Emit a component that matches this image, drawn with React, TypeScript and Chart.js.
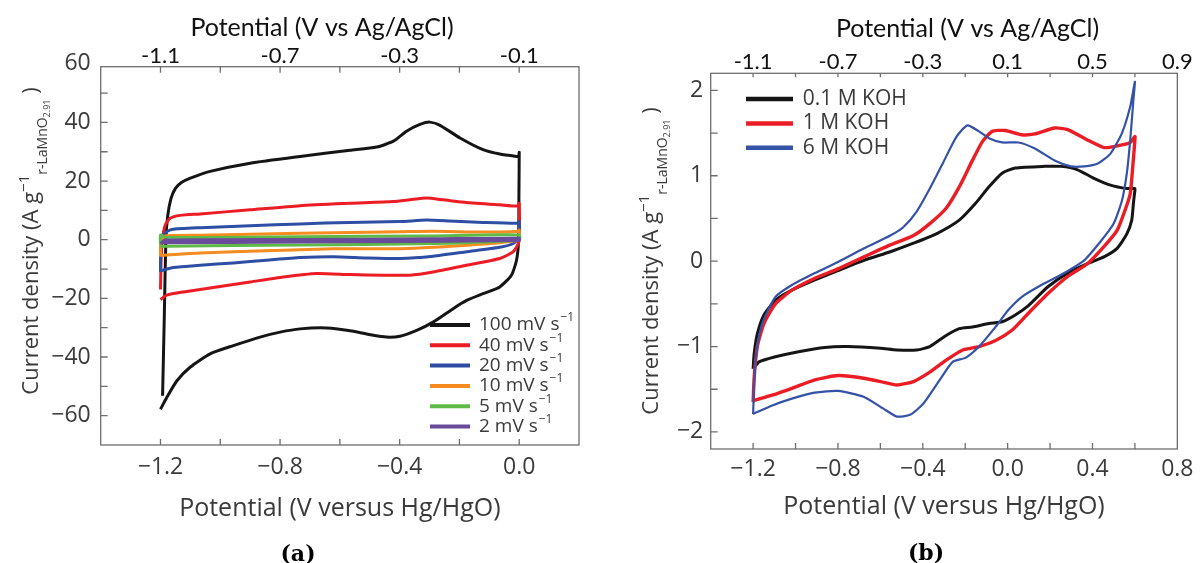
import React, { useEffect, useRef } from 'react';
import { Chart, registerables } from 'chart.js';

Chart.register(...registerables);

// ---------------- Panel (a): scan-rate series ----------------
const aSeriesLabels = ['100 mV s', '40 mV s', '20 mV s', '10 mV s', '5 mV s', '2 mV s'];
const aColors = ['#151515', '#ec1c24', '#2e4ea4', '#f68b1f', '#5eba47', '#6a4b9b'];

const a100V = [-1.193, -1.187, -1.182, -1.176, -1.165, -1.15, -1.13, -1.10, -1.034, -0.900, -0.733, -0.566, -0.477, -0.421, -0.377, -0.332, -0.299, -0.265, -0.198, -0.121, -0.065, -0.009, -0.002, 0.0, -0.001, -0.002, -0.009, -0.026, -0.065, -0.121, -0.176, -0.221, -0.288, -0.343, -0.399, -0.444, -0.488, -0.555, -0.644, -0.733, -0.800, -0.867, -0.956, -1.034, -1.101, -1.145, -1.179, -1.2];
const a100I = [-53.2, -25.0, 0.0, 8.0, 14.0, 17.5, 19.5, 21.0, 23.3, 26.1, 28.4, 30.5, 31.6, 33.6, 37.0, 39.3, 40.1, 39.0, 34.7, 30.7, 29.2, 28.4, 28.4, 29.8, 15.0, 0.0, -7.0, -12.1, -16.1, -18.4, -20.7, -23.5, -28.1, -30.9, -32.9, -33.2, -32.6, -31.2, -30.1, -30.4, -31.5, -33.2, -36.1, -38.9, -43.5, -48.1, -53.8, -57.8];

const a40V = [-1.2, -1.198, -1.194, -1.184, -1.168, -1.134, -1.067, -0.900, -0.733, -0.566, -0.421, -0.366, -0.310, -0.254, -0.176, -0.065, -0.004, 0.0, -0.001, -0.020, -0.065, -0.176, -0.288, -0.366, -0.455, -0.566, -0.678, -0.789, -0.900, -1.012, -1.123, -1.179, -1.2];
const a40I = [-17.0, -7.0, -0.1, 5.0, 7.3, 8.3, 8.8, 10.2, 11.6, 12.4, 13.0, 13.6, 14.2, 13.6, 12.7, 11.9, 11.5, 12.4, -0.7, -4.1, -6.4, -8.7, -11.0, -12.1, -12.1, -11.9, -11.5, -12.7, -14.4, -16.1, -17.8, -18.9, -20.4];

const a20V = [-1.2, -1.198, -1.184, -1.162, -1.067, -0.900, -0.733, -0.566, -0.399, -0.310, -0.232, -0.121, -0.004, 0.0, -0.001, -0.020, -0.065, -0.176, -0.288, -0.399, -0.511, -0.622, -0.733, -0.845, -0.956, -1.067, -1.157, -1.2];
const a20I = [-11.0, -0.1, 2.4, 3.5, 4.1, 4.8, 5.4, 5.9, 6.2, 6.7, 6.4, 5.9, 5.6, 6.2, 1.0, -1.3, -2.6, -4.1, -5.6, -6.4, -6.2, -5.8, -6.1, -7.0, -7.9, -8.7, -9.5, -10.6];

const a10V = [-1.2, -1.198, -1.184, -1.067, -0.733, -0.399, -0.288, -0.121, -0.004, 0.0, -0.001, -0.065, -0.288, -0.399, -0.622, -0.845, -1.067, -1.2];
const a10I = [-5.8, 0.0, 1.3, 1.5, 2.2, 2.7, 2.9, 2.6, 2.9, 3.3, 0.0, -1.0, -2.6, -3.1, -3.1, -3.8, -4.5, -5.3];

const a5V = [-1.2, -1.2, -1.184, -0.733, -0.288, 0.0, 0.0, -0.288, -0.733, -1.18, -1.2];
const a5I = [-1.8, 1.6, 0.8, 1.0, 1.3, 1.6, -0.1, -1.3, -1.8, -2.2, -2.4];

const a2V = [-1.2, -1.184, -0.733, -0.288, 0.0, 0.0, -0.733, -1.2];
const a2I = [-1.3, -0.1, 0.1, 0.3, 0.5, -0.3, -0.8, -1.0];

const aXTicks = [-1.2, -1.0, -0.8, -0.6, -0.4, -0.2, 0.0];
const aXLabelVals = [-1.2, -0.8, -0.4, 0.0];
const aXLabels = ['\u22121.2', '\u22120.8', '\u22120.4', '0.0'];
const aTopLabels = ['-1.1', '-0.7', '-0.3', '-0.1'];
const aYTicks = [-60, -50, -40, -30, -20, -10, 0, 10, 20, 30, 40, 50];
const aYLabelVals = [60, 40, 20, 0, -20, -40, -60];
const aYLabels = ['60', '40', '20', '0', '\u221220', '\u221240', '\u221260'];

// ---------------- Panel (b): electrolyte series ----------------
const bSeriesLabels = ['0.1 M KOH', '1 M KOH', '6 M KOH'];
const bColors = ['#151515', '#ec1c24', '#3553a6'];

const bBlackV = [-1.2, -1.195, -1.180, -1.149, -1.095, -1.017, -0.909, -0.800, -0.677, -0.553, -0.444, -0.336, -0.228, -0.150, -0.088, -0.026, 0.036, 0.175, 0.252, 0.330, 0.407, 0.485, 0.563, 0.600, 0.600, 0.593, 0.585, 0.562, 0.516, 0.454, 0.376, 0.283, 0.190, 0.098, 0.036, -0.026, -0.088, -0.166, -0.228, -0.290, -0.367, -0.429, -0.522, -0.599, -0.754, -0.862, -0.986, -1.095, -1.172, -1.2];
const bBlackI = [-1.26, -1.08, -0.85, -0.63, -0.46, -0.34, -0.22, -0.11, 0.01, 0.11, 0.21, 0.32, 0.48, 0.68, 0.87, 1.03, 1.09, 1.11, 1.11, 1.07, 0.97, 0.89, 0.85, 0.85, 0.83, 0.68, 0.48, 0.32, 0.15, 0.05, -0.03, -0.14, -0.30, -0.52, -0.63, -0.71, -0.73, -0.77, -0.79, -0.87, -1.00, -1.04, -1.04, -1.02, -1.00, -1.01, -1.06, -1.12, -1.18, -1.26];

const bRedV = [-1.2, -1.195, -1.180, -1.149, -1.095, -1.017, -0.909, -0.800, -0.677, -0.553, -0.444, -0.367, -0.290, -0.228, -0.166, -0.119, -0.073, -0.011, 0.066, 0.128, 0.221, 0.283, 0.376, 0.454, 0.516, 0.578, 0.600, 0.600, 0.590, 0.578, 0.554, 0.516, 0.454, 0.376, 0.283, 0.190, 0.098, 0.020, -0.057, -0.135, -0.212, -0.290, -0.367, -0.444, -0.522, -0.599, -0.708, -0.800, -0.909, -1.017, -1.110, -1.195, -1.2];
const bRedI = [-1.65, -1.36, -1.00, -0.73, -0.50, -0.34, -0.20, -0.09, 0.05, 0.19, 0.30, 0.44, 0.62, 0.87, 1.18, 1.40, 1.52, 1.53, 1.48, 1.49, 1.56, 1.54, 1.42, 1.33, 1.35, 1.39, 1.46, 1.42, 1.11, 0.79, 0.60, 0.36, 0.17, -0.03, -0.18, -0.38, -0.61, -0.81, -0.93, -1.00, -1.04, -1.16, -1.30, -1.41, -1.45, -1.41, -1.36, -1.34, -1.39, -1.49, -1.57, -1.63, -1.65];

const bBlueV = [-1.2, -1.195, -1.185, -1.157, -1.095, -1.017, -0.909, -0.800, -0.677, -0.553, -0.491, -0.429, -0.367, -0.305, -0.243, -0.190, -0.135, -0.088, -0.026, 0.051, 0.128, 0.221, 0.299, 0.361, 0.423, 0.485, 0.539, 0.578, 0.600, 0.593, 0.578, 0.562, 0.539, 0.500, 0.438, 0.361, 0.252, 0.159, 0.066, 0.004, -0.057, -0.135, -0.197, -0.259, -0.320, -0.398, -0.460, -0.522, -0.584, -0.677, -0.800, -0.909, -1.017, -1.110, -1.2];
const bBlueI = [-1.79, -1.43, -1.08, -0.73, -0.42, -0.28, -0.14, -0.01, 0.15, 0.30, 0.40, 0.58, 0.85, 1.15, 1.45, 1.59, 1.52, 1.44, 1.39, 1.39, 1.32, 1.18, 1.11, 1.11, 1.14, 1.26, 1.50, 1.81, 2.10, 1.89, 1.42, 1.03, 0.71, 0.44, 0.23, 0.01, -0.16, -0.28, -0.42, -0.57, -0.77, -1.00, -1.13, -1.18, -1.39, -1.67, -1.80, -1.82, -1.73, -1.59, -1.52, -1.54, -1.61, -1.69, -1.79];

const bXTicks = [-1.2, -1.0, -0.8, -0.6, -0.4, -0.2, 0.0, 0.2, 0.4, 0.6];
const bXLabelVals = [-1.2, -0.8, -0.4, 0.0, 0.4, 0.8];
const bXLabels = ['\u22121.2', '\u22120.8', '\u22120.4', '0.0', '0.4', '0.8'];
const bTopLabels = ['-1.1', '-0.7', '-0.3', '0.1', '0.5', '0.9'];
const bYTicks = [-2, -1.5, -1, -0.5, 0, 0.5, 1, 1.5, 2];
const bYLabelVals = [2, 1, 0, -1, -2];
const bYLabels = ['2', '1', '0', '\u22121', '\u22122'];

// ---------------- helpers ----------------
const W = 600;
const H = 563;
const SANS = '"Open Sans", "Noto Sans", sans-serif';
const TOPFONT = 'Lato, "Open Sans", sans-serif';
const TEXT = '#3a3a3a';
const FRAME = '#6e6e6e';

const pts = (xs: number[], ys: number[]) => xs.map((x, i) => ({ x, y: ys[i] }));

function axis(opts: any) {
  const { position, min, max, vals, labels, font, color, padding, size } = opts;
  const horizontal = position === 'top' || position === 'bottom';
  return {
    type: 'linear',
    position,
    min,
    max,
    afterBuildTicks: (s: any) => {
      s.ticks = vals.map((v: number) => ({ value: v }));
    },
    afterFit: (s: any) => {
      if (horizontal) s.height = size;
      else s.width = size;
    },
    ticks: {
      autoSkip: false,
      maxRotation: 0,
      minRotation: 0,
      padding,
      color,
      font,
      callback: (_v: any, i: number) => labels[i],
    },
    grid: { display: false, drawTicks: false },
    border: { display: false },
    title: opts.title || { display: false },
  };
}

function drawYTitle(ctx: CanvasRenderingContext2D, baseX: number, centerY: number) {
  const parts = [
    { t: 'Current density (A g', size: 22, dy: 0 },
    { t: '\u22121', size: 15, dy: -9 },
    { t: 'r-LaMnO', size: 14, dy: 9 },
    { t: '2.91', size: 9, dy: 12 },
    { t: ' )', size: 22, dy: 0 },
  ];
  ctx.save();
  ctx.fillStyle = TEXT;
  ctx.textBaseline = 'alphabetic';
  ctx.textAlign = 'left';
  const widths = parts.map((p) => {
    ctx.font = `${p.size}px ${SANS}`;
    return ctx.measureText(p.t).width;
  });
  const total = widths.reduce((a, b) => a + b, 0);
  ctx.translate(baseX, centerY);
  ctx.rotate(-Math.PI / 2);
  let x = -total / 2;
  parts.forEach((p, i) => {
    ctx.font = `${p.size}px ${SANS}`;
    ctx.fillText(p.t, x, p.dy);
    x += widths[i];
  });
  ctx.restore();
}

function framePlugin(xTicks: number[], yTicks: number[], lens: { b: number; t: number; l: number }) {
  return {
    id: 'frameTicks',
    beforeDatasetsDraw(chart: any) {
      const { ctx, chartArea: ca, scales } = chart;
      ctx.save();
      ctx.strokeStyle = FRAME;
      ctx.lineWidth = 1.3;
      ctx.strokeRect(ca.left, ca.top, ca.right - ca.left, ca.bottom - ca.top);
      ctx.beginPath();
      xTicks.forEach((v) => {
        const px = scales.x.getPixelForValue(v);
        ctx.moveTo(px, ca.bottom);
        ctx.lineTo(px, ca.bottom - lens.b);
        ctx.moveTo(px, ca.top);
        ctx.lineTo(px, ca.top + lens.t);
      });
      yTicks.forEach((v) => {
        const py = scales.y.getPixelForValue(v);
        ctx.moveTo(ca.left, py);
        ctx.lineTo(ca.left + lens.l, py);
      });
      ctx.stroke();
      ctx.restore();
    },
  };
}

function ChartPanel({ build }: { build: (c: HTMLCanvasElement) => Chart }) {
  const ref = useRef<HTMLCanvasElement | null>(null);
  useEffect(() => {
    if (!ref.current) return;
    const chart = build(ref.current);
    return () => chart.destroy();
  }, [build]);
  return <canvas ref={ref} width={W} height={H} style={{ display: 'block', width: W, height: H }} />;
}

function buildA(canvas: HTMLCanvasElement) {
  const seriesV = [a100V, a40V, a20V, a10V, a5V, a2V];
  const seriesI = [a100I, a40I, a20I, a10I, a5I, a2I];
  const datasets = seriesV.map((v, k) => ({
    label: aSeriesLabels[k] + '\u207B\u00B9',
    data: pts(v, seriesI[k]),
    borderColor: aColors[k],
    backgroundColor: aColors[k],
    borderWidth: 3,
    showLine: true,
    pointRadius: 0,
    tension: 0.2,
    fill: false,
    order: 5 - k,
  }));
  const decor = {
    id: 'decorA',
    afterDraw(chart: any) {
      const ctx = chart.ctx as CanvasRenderingContext2D;
      ctx.save();
      // top title
      ctx.fillStyle = '#111';
      ctx.font = `25px ${TOPFONT}`;
      ctx.textAlign = 'center';
      ctx.textBaseline = 'middle';
      ctx.fillText('Potential (V vs Ag/AgCl)', 322, 28);
      // y title
      drawYTitle(ctx, 38, 241);
      // legend
      const y0 = 325;
      const dy = 20.3;
      aSeriesLabels.forEach((lab, k) => {
        const y = y0 + k * dy;
        ctx.strokeStyle = aColors[k];
        ctx.lineWidth = 4;
        ctx.beginPath();
        ctx.moveTo(430, y);
        ctx.lineTo(470, y);
        ctx.stroke();
        ctx.fillStyle = TEXT;
        ctx.textAlign = 'left';
        ctx.textBaseline = 'middle';
        ctx.font = `19px ${SANS}`;
        ctx.fillText(lab, 479, y);
        const w = ctx.measureText(lab).width;
        ctx.font = `12px ${SANS}`;
        ctx.fillText('\u22121', 479 + w + 1, y - 7);
      });
      // caption
      ctx.fillStyle = '#000';
      ctx.textAlign = 'center';
      ctx.textBaseline = 'middle';
      ctx.font = `bold 22px "DejaVu Serif", serif`;
      ctx.fillText('(a)', 298, 555);
      ctx.restore();
    },
  };
  return new Chart(canvas, {
    type: 'scatter',
    data: { datasets } as any,
    options: {
      responsive: false,
      animation: false,
      devicePixelRatio: 1,
      layout: { padding: { left: 0, right: 21, top: 0, bottom: 0 } },
      plugins: { legend: { display: false }, tooltip: { enabled: false } },
      scales: {
        x: axis({
          position: 'bottom', min: -1.4, max: 0.2, vals: aXLabelVals, labels: aXLabels,
          font: { family: SANS, size: 23 }, color: TEXT, padding: 9, size: 118,
          title: {
            display: true, text: 'Potential (V versus Hg/HgO)', color: TEXT,
            font: { family: SANS, size: 25 }, padding: { top: 0, bottom: 39 },
          },
        }),
        x2: axis({
          position: 'top', min: -1.4, max: 0.2, vals: aXLabelVals, labels: aTopLabels,
          font: { family: TOPFONT, size: 22, lineHeight: 1 }, color: '#111', padding: 0, size: 66.7,
        }),
        y: axis({
          position: 'left', min: -70, max: 59, vals: aYLabelVals, labels: aYLabels,
          font: { family: SANS, size: 23 }, color: TEXT, padding: 10, size: 100.7,
        }),
      },
    } as any,
    plugins: [framePlugin(aXTicks, aYTicks, { b: 6, t: 6, l: 7 }), decor],
  });
}

function buildB(canvas: HTMLCanvasElement) {
  const seriesV = [bBlackV, bRedV, bBlueV];
  const seriesI = [bBlackI, bRedI, bBlueI];
  const widths = [3, 3.4, 2.2];
  const datasets = seriesV.map((v, k) => ({
    label: bSeriesLabels[k],
    data: pts(v, seriesI[k]),
    borderColor: bColors[k],
    backgroundColor: bColors[k],
    borderWidth: widths[k],
    showLine: true,
    pointRadius: 0,
    tension: 0.2,
    fill: false,
    order: 2 - k,
  }));
  const decor = {
    id: 'decorB',
    afterDraw(chart: any) {
      const ctx = chart.ctx as CanvasRenderingContext2D;
      ctx.save();
      ctx.fillStyle = '#111';
      ctx.font = `25px ${TOPFONT}`;
      ctx.textAlign = 'center';
      ctx.textBaseline = 'middle';
      ctx.fillText('Potential (V vs Ag/AgCl)', 367.5, 29);
      drawYTitle(ctx, 58, 261);
      const y0 = 99;
      const dy = 24.4;
      bSeriesLabels.forEach((lab, k) => {
        const y = y0 + k * dy;
        ctx.strokeStyle = bColors[k];
        ctx.lineWidth = 4.5;
        ctx.beginPath();
        ctx.moveTo(146, y);
        ctx.lineTo(193, y);
        ctx.stroke();
        ctx.fillStyle = TEXT;
        ctx.textAlign = 'left';
        ctx.textBaseline = 'middle';
        ctx.font = `21px ${SANS}`;
        ctx.fillText(lab, 202.7, y);
      });
      ctx.fillStyle = '#000';
      ctx.textAlign = 'center';
      ctx.textBaseline = 'middle';
      ctx.font = `bold 22px "DejaVu Serif", serif`;
      ctx.fillText('(b)', 326, 554);
      ctx.restore();
    },
  };
  return new Chart(canvas, {
    type: 'scatter',
    data: { datasets } as any,
    options: {
      responsive: false,
      animation: false,
      devicePixelRatio: 1,
      layout: { padding: { left: 0, right: 17, top: 0, bottom: 0 } },
      plugins: { legend: { display: false }, tooltip: { enabled: false } },
      scales: {
        x: axis({
          position: 'bottom', min: -1.4, max: 0.8, vals: bXLabelVals, labels: bXLabels,
          font: { family: SANS, size: 23 }, color: TEXT, padding: 6.5, size: 114,
          title: {
            display: true, text: 'Potential (V versus Hg/HgO)', color: TEXT,
            font: { family: SANS, size: 25 }, padding: { top: 0, bottom: 41.5 },
          },
        }),
        x2: axis({
          position: 'top', min: -1.4, max: 0.8, vals: bXLabelVals, labels: bTopLabels,
          font: { family: TOPFONT, size: 22, lineHeight: 1 }, color: '#111', padding: 0, size: 73.3,
        }),
        y: axis({
          position: 'left', min: -2.2, max: 2.2, vals: bYLabelVals, labels: bYLabels,
          font: { family: SANS, size: 23 }, color: TEXT, padding: 7.5, size: 110.7,
        }),
      },
    } as any,
    plugins: [framePlugin(bXTicks, bYTicks, { b: 6, t: 4, l: 7 }), decor],
  });
}

export default function App() {
  return (
    <div
      style={{
        position: 'fixed',
        left: 0,
        top: 0,
        width: 1200,
        height: 563,
        background: '#fff',
        display: 'flex',
        overflow: 'hidden',
      }}
    >
      <ChartPanel build={buildA} />
      <ChartPanel build={buildB} />
    </div>
  );
}
